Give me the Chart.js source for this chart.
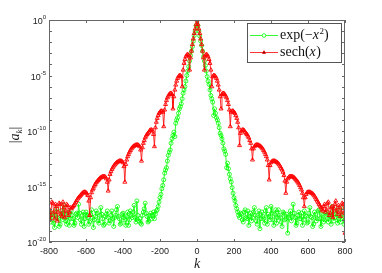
<!DOCTYPE html>
<html>
<head>
<meta charset="utf-8">
<script src="https://cdn.jsdelivr.net/npm/chart.js@4"></script>
<style>
  html, body { margin: 0; padding: 0; background: #fff; }
</style>
</head>
<body>
<canvas id="myChart" width="382" height="273"></canvas>
<script>
// wavenumbers k, every 5 (one row = 100 in k)
var kValues = [
  -800,-795,-790,-785,-780,-775,-770,-765,-760,-755,-750,-745,-740,-735,-730,-725,-720,-715,-710,-705,
  -700,-695,-690,-685,-680,-675,-670,-665,-660,-655,-650,-645,-640,-635,-630,-625,-620,-615,-610,-605,
  -600,-595,-590,-585,-580,-575,-570,-565,-560,-555,-550,-545,-540,-535,-530,-525,-520,-515,-510,-505,
  -500,-495,-490,-485,-480,-475,-470,-465,-460,-455,-450,-445,-440,-435,-430,-425,-420,-415,-410,-405,
  -400,-395,-390,-385,-380,-375,-370,-365,-360,-355,-350,-345,-340,-335,-330,-325,-320,-315,-310,-305,
  -300,-295,-290,-285,-280,-275,-270,-265,-260,-255,-250,-245,-240,-235,-230,-225,-220,-215,-210,-205,
  -200,-195,-190,-185,-180,-175,-170,-165,-160,-155,-150,-145,-140,-135,-130,-125,-120,-115,-110,-105,
  -100,-95,-90,-85,-80,-75,-70,-65,-60,-55,-50,-45,-40,-35,-30,-25,-20,-15,-10,-5,
  0,5,10,15,20,25,30,35,40,45,50,55,60,65,70,75,80,85,90,95,
  100,105,110,115,120,125,130,135,140,145,150,155,160,165,170,175,180,185,190,195,
  200,205,210,215,220,225,230,235,240,245,250,255,260,265,270,275,280,285,290,295,
  300,305,310,315,320,325,330,335,340,345,350,355,360,365,370,375,380,385,390,395,
  400,405,410,415,420,425,430,435,440,445,450,455,460,465,470,475,480,485,490,495,
  500,505,510,515,520,525,530,535,540,545,550,555,560,565,570,575,580,585,590,595,
  600,605,610,615,620,625,630,635,640,645,650,655,660,665,670,675,680,685,690,695,
  700,705,710,715,720,725,730,735,740,745,750,755,760,765,770,775,780,785,790,795,
  800
];

// log10 |a_k| for exp(-x^2)
var gaussExp = [
  -17.3,-17.9,-18.2,-17.4,-17.5,-18.3,-18.7,-17.6,-17.0,-17.8,-17.9,-18.6,-18.4,-17.2,-17.6,-18.0,-16.7,-17.5,-18.1,-18.4,
  -17.7,-17.3,-18.5,-17.9,-17.2,-17.6,-17.9,-18.5,-18.3,-17.5,-17.4,-17.8,-16.6,-17.4,-18.0,-18.4,-17.6,-17.3,-18.6,-17.9,
  -17.3,-17.6,-17.8,-18.4,-18.2,-17.5,-17.1,-17.8,-18.7,-18.0,-17.7,-17.2,-17.4,-18.1,-18.3,-17.6,-16.9,-17.5,-17.9,-18.5,
  -18.4,-17.7,-17.5,-17.2,-17.8,-18.3,-18.1,-17.6,-17.2,-17.9,-18.6,-17.8,-17.6,-17.1,-16.8,-17.7,-17.9,-18.4,-18.3,-17.5,
  -17.4,-17.8,-18.0,-18.5,-17.7,-17.3,-18.5,-18.0,-17.2,-17.6,-17.8,-17.3,-16.7,-17.8,-18.2,-16.3,-17.6,-18.1,-17.9,-18.3,
  -18.4,-17.6,-17.3,-17.0,-16.5,-17.4,-17.7,-18.2,-18.1,-17.6,-17.4,-17.9,-17.6,-17.3,-17.9,-17.5,-17.2,-17.1,-16.8,-16.4,
  -16.0,-15.7,-15.2,-14.9,-14.4,-13.8,-13.5,-13.3,-12.7,-12.2,-11.9,-11.7,-11.1,-10.7,-10.4,-10.1,-10.5,-9.3,-9.0,-8.8,
  -8.4,-8.0,-7.8,-7.55,-7.1,-6.6,-6.3,-6.0,-5.5,-5.0,-4.6,-4.2,-3.7,-3.2,-2.8,-2.4,-1.9,-1.4,-1.0,-0.5,
  0,-0.5,-1.0,-1.45,-1.9,-2.3,-2.8,-3.3,-3.7,-4.1,-4.6,-5.1,-5.5,-5.8,-6.3,-6.8,-7.1,-7.4,-8.6,-8.0,
  -8.4,-8.8,-9.0,-9.3,-9.7,-10.2,-10.4,-10.7,-11.1,-11.6,-11.8,-12.1,-13.3,-12.9,-13.4,-13.9,-14.3,-14.6,-15.1,-15.6,
  -16.0,-16.3,-16.7,-17.0,-17.3,-17.6,-17.8,-17.4,-17.5,-18.0,-18.2,-17.3,-17.1,-17.8,-17.9,-17.2,-18.5,-17.7,-17.4,-18.1,
  -17.8,-17.3,-16.9,-17.6,-18.1,-18.4,-17.6,-17.2,-18.8,-17.9,-17.3,-17.7,-17.9,-18.3,-17.2,-16.9,-18.4,-17.5,-17.7,-18.0,
  -16.8,-17.4,-18.0,-18.5,-17.5,-17.1,-18.3,-17.8,-17.1,-17.6,-17.8,-18.2,-18.6,-17.3,-17.4,-18.0,-17.9,-17.5,-19.2,-17.8,
  -17.6,-17.2,-18.1,-17.7,-16.6,-17.4,-17.8,-18.5,-18.3,-17.6,-17.3,-17.9,-17.9,-17.4,-18.5,-18.0,-17.2,-17.6,-17.7,-18.3,
  -18.2,-17.4,-16.9,-17.7,-17.8,-18.6,-18.4,-17.3,-17.5,-18.1,-17.9,-17.2,-17.1,-17.9,-18.6,-17.5,-17.6,-18.2,-18.0,-17.4,
  -17.3,-17.9,-18.2,-17.6,-17.7,-18.4,-16.8,-17.5,-18.1,-17.8,-17.5,-17.1,-18.3,-17.9,-17.6,-18.2,-16.9,-17.6,-17.8,-18.4,
  -18.0
];

// log10 |a_k| for sech(x)
var sechExp = [
  -17.0,-18.0,-17.6,-16.4,-16.5,-17.3,-17.9,-16.6,-16.8,-18.1,-17.3,-16.5,-16.6,-17.5,-17.7,-16.4,-16.9,-17.8,-17.2,-16.6,
  -16.7,-17.6,-17.3,-16.9,-17.0,-16.9,-16.8,-16.7,-16.55,-16.4,-16.25,-16.1,-16.0,-15.9,-15.8,-15.7,-15.6,-15.55,-15.5,-15.5,
  -15.55,-15.65,-15.8,-16.3,-17.6,-16.0,-15.55,-15.3,-15.15,-14.95,-14.8,-14.65,-14.55,-14.45,-14.35,-14.25,-14.2,-14.15,-14.1,-14.1,
  -14.1,-14.15,-14.3,-14.6,-15.4,-14.4,-13.9,-13.65,-13.45,-13.3,-13.15,-13.05,-12.95,-12.85,-12.8,-12.75,-12.7,-12.7,-12.7,-12.75,
  -12.85,-13.2,-14.6,-13.0,-12.6,-12.3,-12.1,-11.9,-11.75,-11.6,-11.5,-11.4,-11.35,-11.3,-11.25,-11.25,-11.25,-11.3,-11.4,-11.7,
  -12.7,-11.5,-11.1,-10.85,-10.6,-10.45,-10.3,-10.2,-10.1,-9.95,-9.9,-9.9,-10.0,-10.3,-11.4,-9.7,-9.2,-8.85,-8.6,-8.4,
  -8.3,-8.2,-8.2,-8.3,-9.6,-8.1,-7.6,-7.25,-7.0,-6.85,-6.7,-6.6,-6.6,-6.7,-8.0,-6.9,-6.3,-5.85,-5.5,-5.25,
  -5.1,-5.0,-5.0,-5.1,-6.0,-4.5,-3.9,-3.55,-3.3,-3.15,-3.1,-3.2,-4.5,-3.4,-2.8,-2.2,-1.7,-1.2,-0.8,-0.4,
  0,-0.4,-0.8,-1.2,-1.7,-2.2,-2.8,-3.4,-4.5,-3.2,-3.1,-3.15,-3.3,-3.55,-3.9,-4.5,-6.0,-5.1,-5.0,-5.0,
  -5.1,-5.25,-5.5,-5.85,-6.3,-6.9,-8.0,-6.7,-6.6,-6.6,-6.7,-6.85,-7.0,-7.25,-7.6,-8.1,-9.6,-8.3,-8.2,-8.2,
  -8.3,-8.4,-8.6,-8.85,-9.2,-9.7,-11.3,-10.2,-10.0,-9.9,-9.9,-9.95,-10.1,-10.2,-10.3,-10.45,-10.6,-10.85,-11.1,-11.6,
  -12.6,-11.6,-11.4,-11.3,-11.25,-11.25,-11.25,-11.3,-11.35,-11.4,-11.5,-11.6,-11.75,-11.9,-12.1,-12.3,-12.6,-13.1,-14.4,-13.1,
  -12.85,-12.75,-12.7,-12.7,-12.7,-12.75,-12.8,-12.85,-12.95,-13.05,-13.2,-13.35,-13.5,-13.7,-14.0,-14.5,-15.6,-14.6,-14.3,-14.2,
  -14.1,-14.1,-14.1,-14.1,-14.15,-14.2,-14.3,-14.4,-14.5,-14.6,-14.75,-14.9,-15.1,-15.3,-15.6,-16.0,-16.8,-16.0,-15.7,-15.55,
  -15.5,-15.5,-15.5,-15.55,-15.6,-15.65,-15.75,-15.85,-16.0,-16.15,-16.3,-16.45,-16.6,-16.75,-16.9,-17.1,-17.2,-16.8,-16.6,-17.3,
  -17.1,-16.5,-16.4,-17.6,-17.4,-16.9,-16.8,-17.8,-17.0,-16.6,-16.3,-17.2,-17.5,-16.7,-16.9,-17.7,-17.3,-16.5,-16.6,-17.4,
  -19.2
];

var xTicks = [-800, -600, -400, -200, 0, 200, 400, 600, 800];
var yTickExps = [0, -5, -10, -15, -20];

function toPoints(exps) {
  return kValues.map(function (k, i) { return { x: k, y: Math.pow(10, exps[i]) }; });
}

var decor = {
  id: 'decor',
  afterDraw: function (chart) {
    var c = chart.ctx, a = chart.chartArea;
    var xs = chart.scales.x, ys = chart.scales.y;
    c.save();
    c.strokeStyle = '#666';
    c.lineWidth = 1;
    c.strokeRect(a.left + 0.5, a.top + 0.5, a.right - a.left - 1, a.bottom - a.top - 1);
    c.beginPath();
    xTicks.forEach(function (t) {
      var px = Math.round(xs.getPixelForValue(t)) + 0.5;
      c.moveTo(px, a.bottom); c.lineTo(px, a.bottom - 3);
      c.moveTo(px, a.top); c.lineTo(px, a.top + 3);
    });
    for (var e = 0; e >= -20; e--) {
      var py = Math.round(ys.getPixelForValue(Math.pow(10, e))) + 0.5;
      c.moveTo(a.left, py); c.lineTo(a.left + 3, py);
      c.moveTo(a.right, py); c.lineTo(a.right - 3, py);
    }
    c.stroke();

    c.fillStyle = '#222';
    c.font = '9px "Liberation Sans", Arial, sans-serif';
    c.textAlign = 'center';
    c.textBaseline = 'middle';
    xTicks.forEach(function (t) {
      c.fillText(String(t), xs.getPixelForValue(t), a.bottom + 10);
    });
    yTickExps.forEach(function (e) {
      var py = ys.getPixelForValue(Math.pow(10, e));
      c.font = '6px "Liberation Sans", Arial, sans-serif';
      c.textAlign = 'right';
      c.textBaseline = 'alphabetic';
      var sup = String(e);
      var sw = c.measureText(sup).width;
      c.fillText(sup, a.left - 3, py - 1);
      c.font = '9px "Liberation Sans", Arial, sans-serif';
      c.fillText('10', a.left - 3 - sw, py + 4);
    });

    // axis titles
    c.fillStyle = '#222';
    c.textAlign = 'center';
    c.textBaseline = 'alphabetic';
    c.font = 'italic 14px "Liberation Serif", serif';
    c.fillText('k', xs.getPixelForValue(0), 268);
    c.save();
    c.translate(19, (a.top + a.bottom) / 2 + 4);
    c.rotate(-Math.PI / 2);
    c.textAlign = 'left';
    c.font = '14px "Liberation Serif", serif';
    var w1 = c.measureText('|').width;
    c.font = 'italic 14px "Liberation Serif", serif';
    var w2 = c.measureText('a').width;
    c.font = 'italic 9px "Liberation Serif", serif';
    var w3 = c.measureText('k').width;
    var x0 = -(w1 + w2 + w3 + w1) / 2;
    c.font = '14px "Liberation Serif", serif';
    c.fillText('|', x0, 0);
    c.font = 'italic 14px "Liberation Serif", serif';
    c.fillText('a', x0 + w1, 0);
    c.font = 'italic 9px "Liberation Serif", serif';
    c.fillText('k', x0 + w1 + w2, 3);
    c.font = '14px "Liberation Serif", serif';
    c.fillText('|', x0 + w1 + w2 + w3, 0);
    c.restore();

    // legend
    var lx = 247, ly = 23, lw = 94, lh = 39;
    c.fillStyle = '#fff';
    c.fillRect(lx, ly, lw, lh);
    c.strokeStyle = '#555';
    c.strokeRect(lx + 0.5, ly + 0.5, lw, lh);
    var rows = [
      { y: 35, color: '#00ff00', style: 'circle', parts: [['exp(\u2212', ''], ['x', 'i'], ['2', 's'], [')', '']] },
      { y: 52, color: '#ff0000', style: 'triangle', parts: [['sech(', ''], ['x', 'i'], [')', '']] }
    ];
    rows.forEach(function (r) {
      c.strokeStyle = r.color;
      c.lineWidth = 0.8;
      c.beginPath(); c.moveTo(250, r.y + 0.5); c.lineTo(278, r.y + 0.5); c.stroke();
      Chart.helpers.drawPoint(c, { pointStyle: r.style, radius: 1.8, borderWidth: 0.8, rotation: 0 }, 264, r.y + 0.5);
      var tx = 280;
      c.fillStyle = '#111';
      c.textAlign = 'left';
      c.textBaseline = 'alphabetic';
      r.parts.forEach(function (p) {
        var f = p[1] === 'i' ? 'italic 14px "Liberation Serif", serif'
              : p[1] === 's' ? '9px "Liberation Serif", serif'
              : '14px "Liberation Serif", serif';
        c.font = f;
        c.fillText(p[0], tx, p[1] === 's' ? r.y - 1 : r.y + 4);
        tx += c.measureText(p[0]).width + (p[1] === 'i' ? 0.5 : 0);
      });
    });
    c.restore();
  }
};

var ctx = document.getElementById('myChart');
var config = {
  type: 'line',
  data: {
    datasets: [
      {
        label: 'exp(-x^2)',
        data: toPoints(gaussExp),
        borderColor: '#00ff00',
        borderWidth: 0.8,
        pointStyle: 'circle',
        pointRadius: 2,
        pointBorderWidth: 0.8,
        pointBorderColor: '#00ff00',
        pointBackgroundColor: 'rgba(0,0,0,0)',
        order: 1
      },
      {
        label: 'sech(x)',
        data: toPoints(sechExp),
        borderColor: '#ff0000',
        borderWidth: 0.8,
        pointStyle: 'triangle',
        pointRadius: 2.3,
        pointBorderWidth: 0.9,
        pointBorderColor: '#ff0000',
        pointBackgroundColor: 'rgba(0,0,0,0)',
        order: 0
      }
    ]
  },
  options: {
    responsive: false,
    animation: false,
    devicePixelRatio: 1,
    layout: { padding: { left: 0, top: 20, right: 37, bottom: 0 } },
    plugins: { legend: { display: false }, tooltip: { enabled: false } },
    scales: {
      x: {
        type: 'linear', min: -800, max: 800,
        grid: { display: false }, border: { display: false },
        ticks: { display: false },
        afterFit: function (s) { s.height = 31; }
      },
      y: {
        type: 'logarithmic', min: 1e-20, max: 1,
        grid: { display: false }, border: { display: false },
        ticks: { display: false },
        afterFit: function (s) { s.width = 49; }
      }
    }
  },
  plugins: [decor]
};
const myChart = new Chart(ctx, config);
</script>
</body>
</html>
